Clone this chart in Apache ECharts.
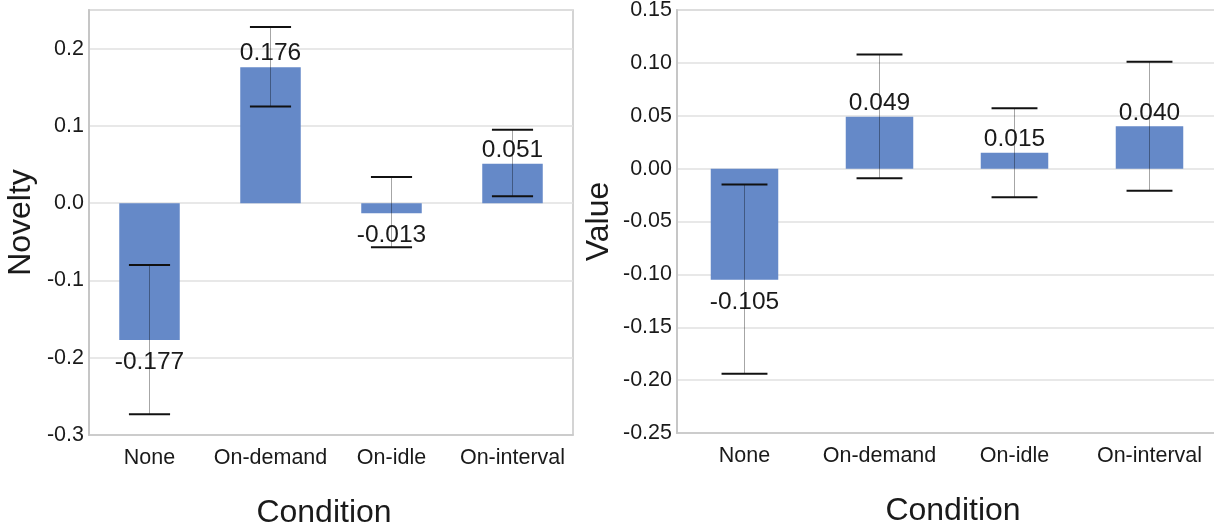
<!DOCTYPE html>
<html>
<head>
<meta charset="utf-8">
<script src="https://cdn.jsdelivr.net/npm/echarts@6/dist/echarts.min.js"></script>
<style>
  html, body { margin: 0; padding: 0; background: #fff; }
  #chart { width: 1214px; height: 527px; }
</style>
</head>
<body>
<div id="chart"></div>
<script>
// Conditions shared by both panels
const categories = ['None', 'On-demand', 'On-idle', 'On-interval'];

// Novelty panel: means and error-bar bounds
const noveltyMeans = [-0.177, 0.176, -0.013, 0.051];
const noveltyLow   = [-0.273, 0.125, -0.057, 0.009];
const noveltyHigh  = [-0.080, 0.228, 0.034, 0.095];

// Value panel: means and error-bar bounds
const valueMeans = [-0.105, 0.049, 0.015, 0.040];
const valueLow   = [-0.194, -0.009, -0.027, -0.021];
const valueHigh  = [-0.015, 0.108, 0.057, 0.101];

const FONT = "'Liberation Sans', Arial, sans-serif";
const TEXT = '#1a1a1a';
const BAR = '#6589C8';
const BORDER = '#c6c6c6';
const GRIDLINE = '#e0e0e0';

function fmt(digits) {
  return v => (Math.abs(v) < 1e-9 ? 0 : v).toFixed(digits);
}

function barData(means) {
  return means.map(v => ({
    value: v,
    label: v < 0 ? { position: 'bottom', distance: 10 } : { position: 'top', distance: 1 }
  }));
}

function errorData(low, high) {
  return categories.map((c, i) => [i, low[i], high[i]]);
}

function renderError(params, api) {
  const i = api.value(0);
  const lo = api.coord([i, api.value(1)]);
  const hi = api.coord([i, api.value(2)]);
  const band = api.size([1, 0])[0];
  const half = band * 0.17;
  return {
    type: 'group',
    children: [
      { type: 'line', shape: { x1: lo[0], y1: lo[1], x2: hi[0], y2: hi[1] },
        style: { stroke: 'rgba(0,0,0,0.35)', lineWidth: 1 } },
      { type: 'line', shape: { x1: lo[0] - half, y1: lo[1], x2: lo[0] + half, y2: lo[1] },
        style: { stroke: '#111', lineWidth: 2 } },
      { type: 'line', shape: { x1: hi[0] - half, y1: hi[1], x2: hi[0] + half, y2: hi[1] },
        style: { stroke: '#111', lineWidth: 2 } }
    ]
  };
}

function xAxis(gridIndex, namePadding) {
  return {
    type: 'category', gridIndex, data: categories,
    name: 'Condition', nameLocation: 'middle', nameGap: 62,
    nameTextStyle: { fontFamily: FONT, fontSize: 32, color: TEXT, padding: namePadding },
    axisLine: { show: true, onZero: false, lineStyle: { color: BORDER, width: 1.5 } },
    axisTick: { show: false },
    axisLabel: { interval: 0, fontFamily: FONT, fontSize: 21.5, color: TEXT, margin: 12 },
    splitLine: { show: false }
  };
}

function yAxis(gridIndex, name, min, max, interval, digits, gap) {
  return {
    type: 'value', gridIndex, min, max, interval,
    name, nameLocation: 'middle', nameGap: gap,
    nameTextStyle: { fontFamily: FONT, fontSize: 32, color: TEXT },
    axisLine: { show: true, lineStyle: { color: BORDER, width: 2 } },
    axisTick: { show: false },
    axisLabel: { fontFamily: FONT, fontSize: 21.5, color: TEXT, margin: 5,
                 formatter: fmt(digits), showMaxLabel: max !== 0.25 },
    splitLine: { show: true, lineStyle: { color: GRIDLINE, width: 1.5 } }
  };
}

const labelStyle = {
  show: true, fontFamily: FONT, fontSize: 24.5, color: TEXT,
  formatter: p => p.value.toFixed(3)
};

const chart = echarts.init(document.getElementById('chart'), null, { renderer: 'canvas' });
chart.setOption({
  animation: false,
  backgroundColor: '#fff',
  grid: [
    { left: 89, top: 10, width: 484, height: 425, show: true, outerBoundsMode: 'none',
      containLabel: false, borderColor: BORDER, borderWidth: 1.5, backgroundColor: 'transparent' },
    { left: 677, top: 10, width: 540, height: 423, show: true, outerBoundsMode: 'none',
      containLabel: false, borderColor: BORDER, borderWidth: 1.5, backgroundColor: 'transparent' }
  ],
  xAxis: [xAxis(0, [0, 14, 0, 0]), xAxis(1, [0, 0, 0, 12])],
  yAxis: [
    yAxis(0, 'Novelty', -0.3, 0.25, 0.1, 1, 52),
    yAxis(1, 'Value', -0.25, 0.15, 0.05, 2, 62)
  ],
  series: [
    { type: 'bar', xAxisIndex: 0, yAxisIndex: 0, barWidth: '50%',
      itemStyle: { color: BAR }, label: labelStyle, data: barData(noveltyMeans), z: 2 },
    { type: 'custom', xAxisIndex: 0, yAxisIndex: 0, renderItem: renderError,
      data: errorData(noveltyLow, noveltyHigh), z: 10 },
    { type: 'bar', xAxisIndex: 1, yAxisIndex: 1, barWidth: '50%',
      itemStyle: { color: BAR }, label: labelStyle, data: barData(valueMeans), z: 2 },
    { type: 'custom', xAxisIndex: 1, yAxisIndex: 1, renderItem: renderError,
      data: errorData(valueLow, valueHigh), z: 10 }
  ]
});
</script>
</body>
</html>
